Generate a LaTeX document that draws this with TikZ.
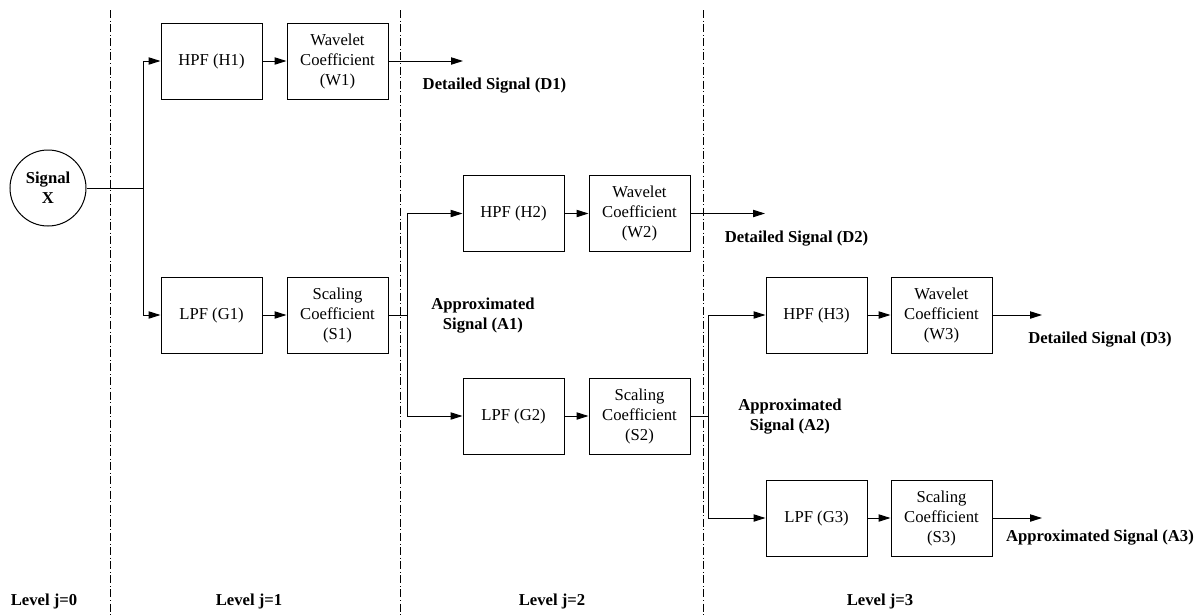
\documentclass[tikz,border=0pt]{standalone}
\usepackage{fontspec}
\setmainfont{Liberation Serif}
\usetikzlibrary{arrows.meta}
\begin{document}
\begin{tikzpicture}[x=0.75pt,y=-0.75pt,
  every node/.style={font=\fontsize{12.5}{15}\selectfont},
  blk/.style={draw,line width=0.75pt,minimum width=75.75pt,minimum height=57pt,align=center,inner sep=1pt},
  sig/.style={draw,circle,line width=0.75pt,minimum size=57pt,inner sep=0pt,align=center,font=\fontsize{12.5}{15}\selectfont\bfseries},
  lbl/.style={align=center,font=\fontsize{12.5}{15}\selectfont\bfseries},
  conn/.style={line width=0.75pt},
  arr/.style={line width=0.75pt,-{Triangle[length=9pt,width=5.5pt]}},
  level/.style={line width=0.5pt,dash pattern=on 6pt off 2pt on 0.6pt off 2pt}]
\useasboundingbox (0,0) rectangle (1203,615);
% level separators
\coordinate (l1t) at (110,10); \coordinate (l1b) at (110,615);
\coordinate (l2t) at (400,10); \coordinate (l2b) at (400,615);
\coordinate (l3t) at (703,10); \coordinate (l3b) at (703,615);
\draw[level] (l1t) -- (l1b);
\draw[level] (l2t) -- (l2b);
\draw[level] (l3t) -- (l3b);
% nodes
\node[sig] (x) at (48,188) {Signal\\X};
\node[blk] (h1) at (211.5,61) {HPF (H1)};
\node[blk] (w1) at (337.5,61) {Wavelet\\Coefficient\\(W1)};
\node[blk] (g1) at (211.5,315) {LPF (G1)};
\node[blk] (s1) at (337.5,315) {Scaling\\Coefficient\\(S1)};
\node[blk] (h2) at (513.5,213.5) {HPF (H2)};
\node[blk] (w2) at (639.5,213.5) {Wavelet\\Coefficient\\(W2)};
\node[blk] (g2) at (513.5,416) {LPF (G2)};
\node[blk] (s2) at (639.5,416) {Scaling\\Coefficient\\(S2)};
\node[blk] (h3) at (816.5,315) {HPF (H3)};
\node[blk] (w3) at (941.5,315) {Wavelet\\Coefficient\\(W3)};
\node[blk] (g3) at (816.5,518) {LPF (G3)};
\node[blk] (s3) at (941.5,518) {Scaling\\Coefficient\\(S3)};
% labels
\node[lbl] (d1) at (494.5,86) {Detailed Signal (D1)};
\node[lbl] (d2) at (796.5,239) {Detailed Signal (D2)};
\node[lbl] (d3) at (1100,340) {Detailed Signal (D3)};
\node[lbl] (a1) at (483,316) {Approximated\\Signal (A1)};
\node[lbl] (a2) at (790,417) {Approximated\\Signal (A2)};
\node[lbl] (a3) at (1100,538) {Approximated Signal (A3)};
\node[lbl] (j0) at (44,601) {Level j=0};
\node[lbl] (j1) at (249,601) {Level j=1};
\node[lbl] (j2) at (552,601) {Level j=2};
\node[lbl] (j3) at (880,601) {Level j=3};
% branch points and free ends
\coordinate (b1) at (143,188);
\coordinate (b2) at (407,315);
\coordinate (b3) at (708,416);
\coordinate (e1) at (463,61);
\coordinate (e2) at (765,213.5);
\coordinate (e3) at (1042,315);
\coordinate (e4) at (1042,518);
% connectors
\draw[conn] (x.east) -- (b1);
\draw[arr] (b1) |- (h1.west);
\draw[arr] (b1) |- (g1.west);
\draw[arr] (h1) -- (w1);
\draw[arr] (g1) -- (s1);
\draw[arr] (w1.east) -- (e1);
\draw[conn] (s1.east) -- (b2);
\draw[arr] (b2) |- (h2.west);
\draw[arr] (b2) |- (g2.west);
\draw[arr] (h2) -- (w2);
\draw[arr] (g2) -- (s2);
\draw[arr] (w2.east) -- (e2);
\draw[conn] (s2.east) -- (b3);
\draw[arr] (b3) |- (h3.west);
\draw[arr] (b3) |- (g3.west);
\draw[arr] (h3) -- (w3);
\draw[arr] (g3) -- (s3);
\draw[arr] (w3.east) -- (e3);
\draw[arr] (s3.east) -- (e4);
\end{tikzpicture}
\end{document}
